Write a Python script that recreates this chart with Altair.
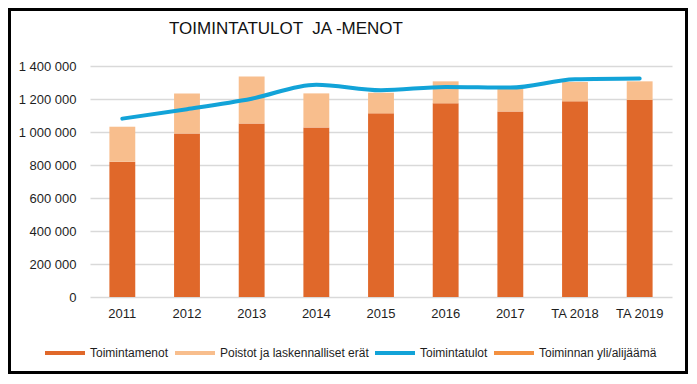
import altair as alt
import pandas as pd

years = ["2011", "2012", "2013", "2014", "2015", "2016", "2017", "TA 2018", "TA 2019"]
toimintamenot = [820000, 991000, 1052000, 1028000, 1113000, 1174000, 1125000, 1186000, 1194000]
poistot = [212000, 243000, 285000, 206000, 125000, 133000, 138000, 117000, 113000]
toimintatulot = [1081000, 1138000, 1202000, 1287000, 1253000, 1273000, 1269000, 1319000, 1324000]
series = ["Toimintamenot", "Poistot ja laskennalliset erät", "Toimintatulot", "Toiminnan yli/alijäämä"]
colors = ["#E0682A", "#F8BE8D", "#12A3D8", "#F39040"]
y_ticks = [0, 200000, 400000, 600000, 800000, 1000000, 1200000, 1400000]
title_text = "TOIMINTATULOT \u00a0JA -MENOT"

FONT = "Liberation Sans"
TXT = "#1e1e1e"

bars_df = pd.DataFrame({
    "year": years * 2,
    "value": toimintamenot + poistot,
    "series": [series[0]] * len(years) + [series[1]] * len(years),
    "ord": [0] * len(years) + [1] * len(years),
})
line_df = pd.DataFrame({"year": years, "value": toimintatulot, "series": [series[2]] * len(years)})

x_enc = alt.X(
    "year:N", sort=years, title=None,
    scale=alt.Scale(paddingInner=0.6, paddingOuter=0.3),
    axis=alt.Axis(labelAngle=0, ticks=False, domain=False, grid=False, labelPadding=10,
                  labelFontSize=13, labelFont=FONT, labelColor=TXT),
)
y_enc = alt.Y(
    "value:Q", title=None,
    scale=alt.Scale(domain=[0, 1400000], nice=False),
    axis=alt.Axis(values=y_ticks, labelExpr="replace(format(datum.value, ','), /,/g, ' ')",
                  ticks=False, domain=False, labelPadding=14, gridColor="#D9D9D9", gridWidth=1.3,
                  labelFontSize=13, labelFont=FONT, labelColor=TXT),
)
color_scale = alt.Scale(domain=series, range=colors)

bars = alt.Chart(bars_df).mark_bar().encode(
    x=x_enc,
    y=y_enc,
    color=alt.Color("series:N", scale=color_scale, title=None, legend=alt.Legend(
        orient="none", legendX=-45, legendY=267, direction="horizontal",
        symbolType="M-1,-0.1H1V0.1H-1Z", symbolSize=1600, symbolStrokeWidth=0,
        symbolOpacity=1, labelFontSize=12, labelFont=FONT, labelColor=TXT,
        labelOffset=5, columnPadding=6, padding=0)),
    order=alt.Order("ord:Q", sort="ascending"),
)

line = alt.Chart(line_df).mark_line(interpolate="monotone", strokeWidth=4, strokeCap="round").encode(
    x=x_enc,
    y=y_enc,
    color=alt.Color("series:N", scale=color_scale, legend=None),
)

title = alt.Chart(pd.DataFrame({"t": [title_text]})).mark_text(
    font=FONT, fontSize=17, color="#111", align="center", baseline="alphabetic"
).encode(text="t:N", x=alt.value(196), y=alt.value(-32))

frame = alt.Chart(pd.DataFrame({"a": [0]})).mark_rect(
    fillOpacity=0, stroke="#000", strokeWidth=3
).encode(x=alt.value(-80.5), x2=alt.value(596.5), y=alt.value(-56.5), y2=alt.value(306.5))

chart = alt.layer(bars, line, title, frame).properties(
    width=582, height=231,
    autosize=alt.AutoSizeParams(type="none"),
    padding={"left": 82, "top": 58, "right": 16, "bottom": 77},
    background="white",
).configure_view(stroke=None)

chart.save("out.html", embed_options={"renderer": "svg", "actions": False})
